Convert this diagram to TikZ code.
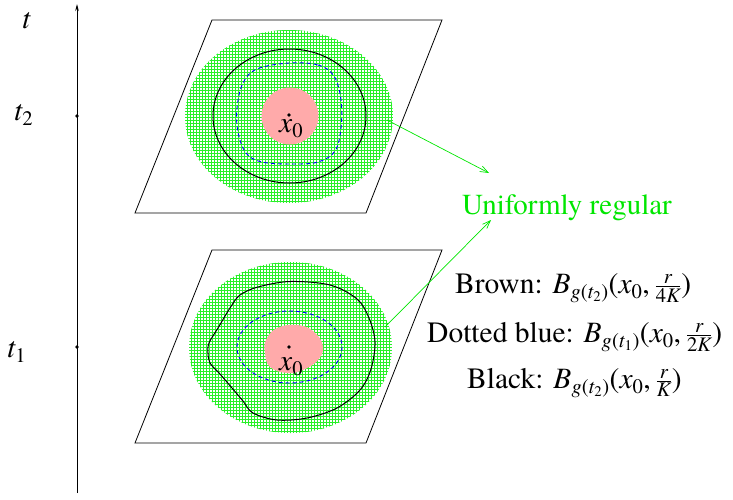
\documentclass[tikz,border=0pt]{standalone}
\usepackage{amsmath}
\usepackage{fontspec}
\IfFontExistsTF{texgyretermes-regular.otf}{%
  \setmainfont{texgyretermes}[Extension=.otf,UprightFont=*-regular,ItalicFont=*-italic,BoldFont=*-bold,BoldItalicFont=*-bolditalic]}{%
  \setmainfont{Liberation Serif}}
\usetikzlibrary{arrows.meta}
\newcommand\ti[1]{\text{\itshape #1}}
\newcommand\tu[1]{\text{#1}}
\definecolor{gridgreen}{RGB}{40,240,40}
\definecolor{pinkblob}{RGB}{255,170,170}
\definecolor{arrowgreen}{RGB}{0,230,0}
\tikzset{
  plane/.style={draw=black,line width=0.8pt},
  gridline/.style={draw=gridgreen,line width=1pt},
  pinkball/.style={fill=pinkblob},
  blackball/.style={draw=black,line width=1pt},
  blueball/.style={draw=blue,line width=0.9pt,dash pattern=on 4pt off 3pt},
  gline/.style={draw=arrowgreen,line width=0.7pt,-{Straight Barb[length=8pt,width=6pt]}},
  lbl/.style={font=\fontsize{29.5}{32}\selectfont,inner sep=0pt,anchor=base west},
  dotc/.style={circle,fill=black,inner sep=0pt,minimum size=3.6pt}
}
\begin{document}
\begin{tikzpicture}[x=1pt,y=-1pt]
\useasboundingbox (0,0) rectangle (733,499);
% time axis
\coordinate (axbot) at (77,493);
\coordinate (axtop) at (77,4);
\draw[line width=0.8pt,-{Stealth[length=7pt,width=3.5pt]}] (axbot) -- (axtop);
\node[dotc] (d2) at (77,116) {};
\node[dotc] (d1) at (77,347) {};
\node[lbl] (lt) at (22,28) {\itshape t};
\node[lbl] (lt2) at (14,120) {$\ti{t}_{\tu{2}}$};
\node[lbl] (lt1) at (7,357) {$\ti{t}_{\tu{1}}$};

% ---------- top plane ----------
\draw[plane] (212,20) -- (442,20) -- (366,213) -- (135,213) -- cycle;
\begin{scope}
  \clip (289,116.5) ellipse [x radius=104, y radius=86.5];
  \foreach \k in {184,187,...,394} \draw[gridline] (\k+0.5,29) -- (\k+0.5,204);
  \foreach \k in {30,33,...,204} \draw[gridline] (184,\k+0.5) -- (394,\k+0.5);
\end{scope}
\draw[blackball] (289.5,116) ellipse [x radius=76.5, y radius=67];
\draw[blueball] plot[smooth cycle,tension=0.6] coordinates {
 (289,63) (318,65) (334,76) (341,100) (341,128) (335,151) (318,162) (292,164)
 (262,162) (246,153) (238,132) (237,108) (243,83) (257,69)};
\path[pinkball] (290,116) circle [radius=28.5];
\node[dotc] (c2) at (289,115) {};
\node[lbl] (x2) at (279,132) {$\ti{x}_{\tu{0}}$};

% ---------- bottom plane ----------
\draw[plane] (212,250) -- (442,250) -- (366,443) -- (135,443) -- cycle;
\begin{scope}
  \clip (290.5,347.5) ellipse [x radius=101.5, y radius=85.5];
  \foreach \k in {188,191,...,392} \draw[gridline] (\k+0.5,261) -- (\k+0.5,434);
  \foreach \k in {260,263,...,434} \draw[gridline] (188,\k+0.5) -- (393,\k+0.5);
\end{scope}
\draw[blackball] plot[smooth cycle,tension=0.55] coordinates {
 (290,281.5) (258,287) (240,295) (230,308) (218,328) (209,343) (208,353) (210,363)
 (220,374) (232,388) (243,401) (253,413) (277,420) (307,418) (337,408) (360,390)
 (371,369) (375,342) (369,318) (357,299) (330,285)};
\draw[blueball] (289.5,347) ellipse [x radius=52.5, y radius=36];
\path[pinkball] plot[smooth cycle,tension=0.7] coordinates {
 (266,340) (277,328) (297,325) (313,331) (323,346) (318,360) (303,370)
 (287,373) (270,367) (265,353)};
\node[dotc] (c1) at (289,347) {};
\node[lbl] (x1) at (279,370) {$\ti{x}_{\tu{0}}$};

% ---------- labels ----------
\node[lbl,text=arrowgreen,font=\fontsize{29}{32}\selectfont] (ur) at (462,214) {Uniformly regular};
\coordinate (s2) at (387,120);
\coordinate (e2) at (489,173);
\coordinate (s1) at (385,327);
\coordinate (e1) at (491,220);
\draw[gline] (s2) -- (e2);
\draw[gline] (s1) -- (e1);

\node[lbl] (brown) at (455,293) {Brown: $\ti{B}_{\ti{g}\tu{(}\ti{t}_{\tu{2}}\tu{)}}\tu{(}\ti{x}_{\tu{0}}\tu{,\,}\frac{\ti{r}}{\tu{4}\ti{K}}\tu{)}$};
\node[lbl] (blue) at (427,342) {Dotted blue: $\ti{B}_{\ti{g}\tu{(}\ti{t}_{\tu{1}}\tu{)}}\tu{(}\ti{x}_{\tu{0}}\tu{,\,}\frac{\ti{r}}{\tu{2}\ti{K}}\tu{)}$};
\node[lbl] (black) at (467,388) {Black: $\ti{B}_{\ti{g}\tu{(}\ti{t}_{\tu{2}}\tu{)}}\tu{(}\ti{x}_{\tu{0}}\tu{,\,}\frac{\ti{r}}{\ti{K}}\tu{)}$};
\end{tikzpicture}
\end{document}
